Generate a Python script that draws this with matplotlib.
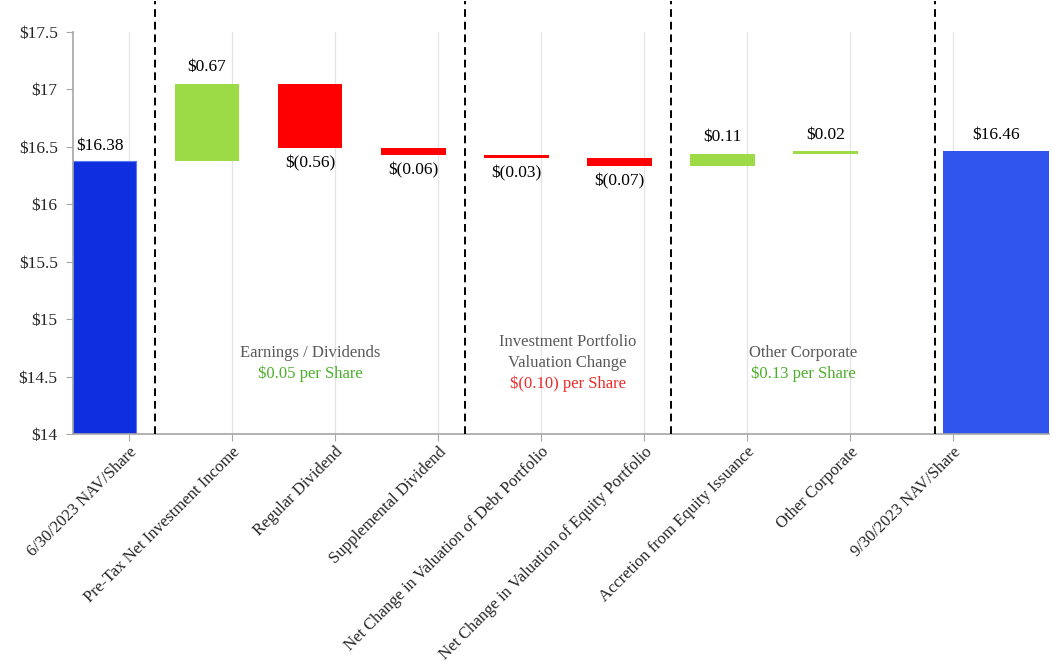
import numpy as np
import matplotlib
matplotlib.use('Agg')
import matplotlib.pyplot as plt

plt.rcParams['font.family'] = ['Liberation Serif', 'DejaVu Serif']

# waterfall data (per share)
categories = ['6/30/2023 NAV/Share', 'Pre-Tax Net Investment Income', 'Regular Dividend',
              'Supplemental Dividend', 'Net Change in Valuation of Debt Portfolio',
              'Net Change in Valuation of Equity Portfolio', 'Accretion from Equity Issuance',
              'Other Corporate', '9/30/2023 NAV/Share']
start_nav = 16.38
changes = [0.67, -0.56, -0.06, -0.03, -0.07, 0.11, 0.02]
end_nav = 16.46

# captions for the three groups of change bars
group_titles = [['Earnings / Dividends'], ['Investment Portfolio', 'Valuation Change'], ['Other Corporate']]
group_totals = ['$0.05 per Share', '$(0.10) per Share', '$0.13 per Share']
group_colors = ['#4CAF2C', '#EE2A2A', '#4CAF2C']
yticks = [14, 14.5, 15, 15.5, 16, 16.5, 17, 17.5]

blue1 = '#0E2EE0'
blue2 = '#2F55EE'
green = '#9CDB45'
red = '#FF0000'
fs = 12.5

def money(v):
    if v < 0:
        return '$({:.2f})'.format(-v)
    return '${:.2f}'.format(v)

fig = plt.figure(figsize=(10.52, 6.66), dpi=100)
ax = fig.add_axes([0.0694, 0.348, 0.9276, 0.604])

n = len(categories)
x = np.arange(n, dtype=float)
w = 0.63
xmax = 9.17

# running levels
levels = start_nav + np.cumsum(changes)
bottoms = np.concatenate([[start_nav], levels[:-1]])

# start bar
ax.bar(x[0], start_nav - 14, bottom=14, width=w, color=blue1, edgecolor='#5A78F0', linewidth=0.8)
ax.annotate(money(start_nav), (x[0], start_nav), xytext=(-3, 5), textcoords='offset points',
            ha='center', va='bottom', fontsize=fs)

# change bars
for i, d in enumerate(changes):
    xi = x[i + 1]
    lo = min(bottoms[i], levels[i])
    ax.bar(xi, abs(d), bottom=lo, width=w, color=green if d > 0 else red, linewidth=0)
    if d > 0:
        ax.annotate(money(d), (xi, lo + abs(d)), xytext=(0, 6), textcoords='offset points',
                    ha='center', va='bottom', fontsize=fs)
    else:
        ax.annotate(money(d), (xi, lo), xytext=(0, -5), textcoords='offset points',
                    ha='center', va='top', fontsize=fs)

# end bar sits a little further right and runs to the axis edge
last_left = x[-1] + 0.14
ax.bar(last_left, end_nav - 14, bottom=14, width=xmax - last_left, align='edge',
       color=blue2, linewidth=0)
ax.annotate(money(end_nav), ((last_left + xmax) / 2, end_nav), xytext=(0, 6),
            textcoords='offset points', ha='center', va='bottom', fontsize=fs)

# dashed separators between groups
seps = [0.5, 3.5, 5.5, last_left - 0.07]
for s in seps:
    ax.plot([s, s], [14, 17.77], ls=(0, (4, 2.5)), color='black', lw=1.4, clip_on=False, zorder=3)

# group captions
step = 0.183
for k in range(3):
    cx = (seps[k] + seps[k + 1]) / 2
    lines = group_titles[k]
    y0 = 14.71 + step * (len(lines) - 1) / 2
    for j, line in enumerate(lines):
        ax.text(cx, y0 - j * step, line, ha='center', va='center', fontsize=12,
                color='#595959')
    ax.text(cx, y0 - len(lines) * step, group_totals[k], ha='center', va='center',
            fontsize=12, color=group_colors[k])

ax.set_xlim(-0.30, xmax)
ax.set_ylim(14, 17.5)
ax.set_yticks(yticks)
ax.set_yticklabels(['${:g}'.format(t) for t in yticks], fontsize=fs, color='#262626')

tick_pos = x + 0.24
ax.set_xticks(tick_pos)
ax.set_xticklabels(categories, rotation=45, ha='right', rotation_mode='anchor',
                   fontsize=12, color='#262626')
ax.tick_params(axis='x', length=5, color='#A6A6A6', pad=2)
ax.tick_params(axis='y', length=5, color='#A6A6A6', pad=6)
ax.grid(axis='x', color='#E4E4E4', lw=0.9)
ax.set_axisbelow(True)
for side in ['top', 'right']:
    ax.spines[side].set_visible(False)
for side in ['left', 'bottom']:
    ax.spines[side].set_color('#A6A6A6')
    ax.spines[side].set_linewidth(1.2)

plt.savefig('out.png', dpi=100)
